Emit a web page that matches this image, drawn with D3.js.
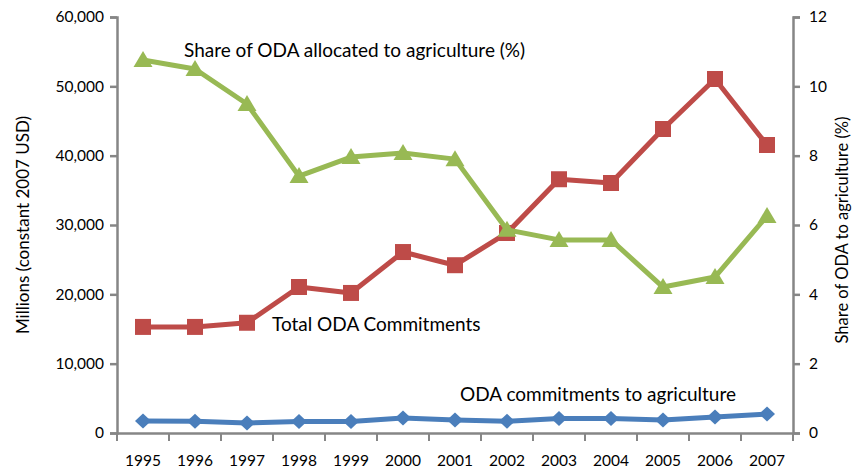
<!DOCTYPE html>
<html><head><meta charset="utf-8">
<script src="https://cdn.jsdelivr.net/npm/d3@7"></script>
<style>body{margin:0;background:#fff}svg{display:block}text{font-family:Lato,"Open Sans",sans-serif;fill:#000}</style>
</head><body><svg id="c" width="852" height="472"></svg>
<script>
const years = ["1995","1996","1997","1998","1999","2000","2001","2002","2003","2004","2005","2006","2007"];
const totalODA = [15300,15300,15900,21060,20200,26100,24200,28850,36600,36060,43850,51060,41540];
const agriODA = [1730,1700,1440,1650,1650,2160,1880,1700,2090,2090,1870,2300,2740];
const sharePct = [10.76,10.5,9.49,7.41,7.96,8.08,7.9,5.86,5.57,5.57,4.21,4.5,6.26];
const leftTicks = [0,10000,20000,30000,40000,50000,60000];
const rightTicks = [0,2,4,6,8,10,12];

const svg = d3.select("#c");
const L=117,R=793,T=17,B=433;
const x = d3.scaleBand().domain(years).range([L,R]);
const yL = d3.scaleLinear().domain([0,60000]).range([B,T]);
const yR = d3.scaleLinear().domain([0,12]).range([B,T]);
const grey="#868686";

const gl = svg.append("g").attr("transform",`translate(${L},0)`)
  .call(d3.axisLeft(yL).tickValues(leftTicks).tickFormat(d3.format(",")).tickSizeOuter(0).tickSize(7).tickPadding(6));
const gr = svg.append("g").attr("transform",`translate(${R},0)`)
  .call(d3.axisRight(yR).tickValues(rightTicks).tickSizeOuter(0).tickSize(7).tickPadding(9));
const gx = svg.append("g").attr("transform",`translate(0,${B})`)
  .call(d3.axisBottom(x).tickSize(0).tickPadding(22));
const bounds = years.map(y=>x(y)).concat([R]);
gx.selectAll(".bt").data(bounds).enter().append("line").attr("class","bt")
  .attr("x1",d=>d).attr("x2",d=>d).attr("y1",0).attr("y2",8);
[gl,gr,gx].forEach(g=>{
  g.selectAll("path,line").attr("stroke",grey).attr("stroke-width",2.5);
  g.selectAll("text").attr("font-size",15.5).attr("font-family","Lato, sans-serif").attr("fill","#000");
});
gx.selectAll(".bt").attr("stroke",grey).attr("stroke-width",2);

svg.append("text").attr("transform",`translate(29,225) rotate(-90)`).attr("text-anchor","middle")
  .attr("font-size",17).text("Millions (constant 2007 USD)");
svg.append("text").attr("transform",`translate(848,230) rotate(-90)`).attr("text-anchor","middle")
  .attr("font-size",16.5).text("Share of ODA to agriculture (%)");

const cx = d=>x(d)+x.bandwidth()/2;
const shapes = {
  square: "M-8,-8H8V8H-8Z",
  diamond: "M0,-7.5L8,0L0,7.5L-8,0Z",
  triangle: "M0,-9L9.5,7H-9.5Z"
};
function series(vals,scale,color,shape){
  const pts = vals.map((v,i)=>[cx(years[i]),scale(v)]);
  svg.append("path").attr("d",d3.line()(pts)).attr("fill","none").attr("stroke",color).attr("stroke-width",5).attr("stroke-linejoin","round");
  svg.append("g").selectAll("path").data(pts).enter().append("path")
    .attr("transform",d=>`translate(${d[0]},${d[1]})`)
    .attr("d",shapes[shape]).attr("fill",color);
}
series(agriODA,yL,"#4A7EBB","diamond");
series(totalODA,yL,"#BE4B48","square");
series(sharePct,yR,"#98B954","triangle");

svg.append("text").attr("x",184).attr("y",57).attr("font-size",19).text("Share of ODA allocated to agriculture (%)");
svg.append("text").attr("x",272).attr("y",331).attr("font-size",19).text("Total ODA Commitments");
svg.append("text").attr("x",460).attr("y",401).attr("font-size",19).text("ODA commitments to agriculture");
</script></body></html>
